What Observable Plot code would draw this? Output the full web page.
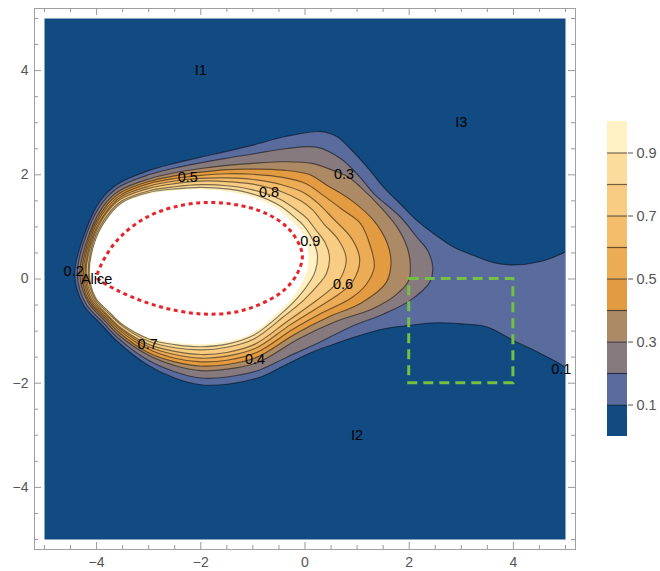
<!DOCTYPE html>
<html><head><meta charset="utf-8">
<script src="https://cdn.jsdelivr.net/npm/d3@7"></script>
<script src="https://cdn.jsdelivr.net/npm/@observablehq/plot@0.6"></script>
<style>
body{margin:0;background:#fff;}
#wrap{position:relative;width:660px;height:571px;font-family:"Liberation Sans",Arial,sans-serif;}
#legend{position:absolute;left:600px;top:110px;}
</style></head><body><div id="wrap"><div id="main"></div><div id="legend"></div></div>
<script>
// plot range and ticks
const plotRangeX = [-5, 5];
const plotRangeY = [-5, 5];
const xMajor = [-4, -2, 0, 2, 4];
const yMajor = [-4, -2, 0, 2, 4];
const xMinor = [-5, -4.5, -3.5, -3, -2.5, -1.5, -1, -0.5, 0.5, 1, 1.5, 2.5, 3, 3.5, 4.5, 5];
const yMinor = [-5, -4.5, -3.5, -3, -2.5, -1.5, -1, -0.5, 0.5, 1, 1.5, 2.5, 3, 3.5, 4.5, 5];

// contour bands (value ranges) and colours
const bandLower = [0, 0.1, 0.2, 0.3, 0.4, 0.5, 0.6, 0.7, 0.8, 0.9];
const bandUpper = [0.1, 0.2, 0.3, 0.4, 0.5, 0.6, 0.7, 0.8, 0.9, 1.0];
const bandColors = ["#114b82", "#5a6b9e", "#867a7f", "#ac8a66", "#e39b42", "#ecab55", "#f3bd6c", "#f8cc82", "#fcdc9a", "#fff1c3"];
const contourLevels = [0.1, 0.2, 0.3, 0.4, 0.5, 0.6, 0.7, 0.8, 0.9];
const legendTicks = [0.1, 0.3, 0.5, 0.7, 0.9];

// contour polygons (level = value on the boundary)
const c01 = [[-4.42,0.10],[-4.20,0.95],[-3.93,1.50],[-3.60,1.82],[-3.00,2.08],[-2.50,2.22],[-2.00,2.34],[-1.50,2.45],[-1.00,2.57],[-0.35,2.74],[0.30,2.83],[0.60,2.74],[0.87,2.50],[1.19,2.15],[1.51,1.76],[1.83,1.44],[2.15,1.12],[2.47,0.87],[2.86,0.61],[3.24,0.45],[3.60,0.32],[4.00,0.27],[4.50,0.33],[5.00,0.52],[5.30,0.70],[5.30,-2.00],[5.00,-1.70],[4.50,-1.42],[4.00,-1.18],[3.50,-0.92],[3.00,-0.86],[2.50,-0.84],[2.00,-0.89],[1.50,-0.96],[1.00,-1.10],[0.50,-1.27],[0.10,-1.42],[-0.40,-1.66],[-0.85,-1.88],[-1.50,-2.02],[-2.00,-2.03],[-2.50,-1.90],[-3.05,-1.63],[-3.60,-1.20],[-3.93,-0.85],[-4.25,-0.50]];
const c02 = [[-4.37,0.10],[-4.17,0.92],[-3.90,1.45],[-3.58,1.76],[-3.00,2.00],[-2.50,2.13],[-2.00,2.23],[-1.50,2.32],[-1.00,2.40],[-0.38,2.50],[0.22,2.53],[0.70,2.30],[1.05,1.96],[1.32,1.64],[1.83,1.19],[2.15,0.80],[2.35,0.55],[2.45,0.25],[2.40,-0.05],[2.02,-0.41],[1.51,-0.67],[0.87,-0.92],[0.23,-1.24],[-0.35,-1.50],[-0.88,-1.75],[-1.50,-1.88],[-2.00,-1.90],[-2.50,-1.78],[-3.04,-1.54],[-3.58,-1.14],[-3.90,-0.81],[-4.21,-0.47]];
const c03 = [[-4.32,0.10],[-4.13,0.89],[-3.87,1.40],[-3.57,1.69],[-3.00,1.92],[-2.50,2.04],[-2.00,2.12],[-1.50,2.18],[-1.00,2.22],[-0.40,2.25],[0.13,2.22],[0.55,2.08],[0.81,1.97],[1.07,1.76],[1.45,1.38],[1.77,0.99],[1.96,0.61],[2.02,0.29],[1.99,-0.03],[1.75,-0.30],[1.30,-0.57],[0.58,-0.82],[-0.11,-1.14],[-0.90,-1.60],[-1.50,-1.73],[-2.00,-1.76],[-2.50,-1.66],[-3.03,-1.45],[-3.57,-1.08],[-3.87,-0.77],[-4.16,-0.45]];
const c04 = [[-4.28,0.10],[-4.11,0.87],[-3.85,1.36],[-3.55,1.65],[-3.00,1.87],[-2.50,1.98],[-2.00,2.05],[-1.50,2.10],[-1.00,2.11],[-0.42,2.09],[0.07,2.01],[0.42,1.80],[0.90,1.50],[1.32,1.12],[1.58,0.68],[1.65,0.29],[1.55,-0.08],[1.08,-0.46],[0.45,-0.73],[-0.18,-1.05],[-0.92,-1.50],[-1.50,-1.64],[-2.00,-1.67],[-2.50,-1.59],[-3.03,-1.40],[-3.55,-1.04],[-3.85,-0.74],[-4.14,-0.43]];
const c05 = [[-4.25,0.10],[-4.09,0.85],[-3.83,1.33],[-3.54,1.61],[-3.00,1.83],[-2.50,1.93],[-2.00,1.99],[-1.50,2.02],[-1.00,2.01],[-0.43,1.95],[0.02,1.83],[0.33,1.62],[0.72,1.33],[1.07,1.06],[1.26,0.61],[1.33,0.23],[1.17,-0.11],[0.88,-0.37],[0.33,-0.65],[-0.24,-0.97],[-0.93,-1.41],[-1.50,-1.56],[-2.00,-1.59],[-2.50,-1.52],[-3.02,-1.34],[-3.54,-1.00],[-3.83,-0.72],[-4.11,-0.42]];
const c06 = [[-4.22,0.10],[-4.07,0.83],[-3.81,1.30],[-3.53,1.58],[-3.00,1.78],[-2.50,1.88],[-2.00,1.93],[-1.50,1.94],[-1.00,1.91],[-0.45,1.81],[-0.03,1.66],[0.23,1.47],[0.52,1.18],[0.90,0.77],[1.05,0.37],[0.92,-0.04],[0.68,-0.27],[0.21,-0.57],[-0.30,-0.89],[-0.95,-1.33],[-1.50,-1.48],[-2.00,-1.52],[-2.50,-1.45],[-3.02,-1.29],[-3.53,-0.97],[-3.81,-0.70],[-4.09,-0.40]];
const c07 = [[-4.20,0.10],[-4.05,0.82],[-3.80,1.28],[-3.53,1.54],[-3.00,1.74],[-2.50,1.83],[-2.00,1.88],[-1.50,1.87],[-1.00,1.82],[-0.46,1.68],[-0.08,1.50],[0.14,1.33],[0.36,1.06],[0.65,0.74],[0.79,0.39],[0.69,0.03],[0.50,-0.19],[0.10,-0.50],[-0.35,-0.82],[-0.96,-1.25],[-1.50,-1.41],[-2.00,-1.45],[-2.50,-1.39],[-3.01,-1.25],[-3.53,-0.94],[-3.80,-0.68],[-4.06,-0.39]];
const c08 = [[-4.16,0.10],[-4.03,0.80],[-3.78,1.24],[-3.51,1.50],[-3.00,1.69],[-2.50,1.77],[-2.00,1.81],[-1.50,1.79],[-1.00,1.71],[-0.48,1.53],[-0.13,1.30],[0.04,1.16],[0.20,0.95],[0.39,0.69],[0.47,0.42],[0.41,0.10],[0.28,-0.08],[-0.03,-0.41],[-0.42,-0.73],[-0.98,-1.15],[-1.50,-1.31],[-2.00,-1.36],[-2.50,-1.32],[-3.01,-1.19],[-3.51,-0.90],[-3.78,-0.65],[-4.04,-0.37]];
const c09 = [[-4.14,0.10],[-4.01,0.78],[-3.76,1.22],[-3.51,1.47],[-3.00,1.66],[-2.50,1.73],[-2.00,1.76],[-1.50,1.73],[-1.00,1.63],[-0.49,1.41],[-0.17,1.16],[-0.04,1.04],[0.09,0.86],[0.19,0.65],[0.24,0.44],[0.20,0.16],[0.12,-0.01],[-0.13,-0.35],[-0.46,-0.67],[-0.99,-1.08],[-1.50,-1.25],[-2.00,-1.30],[-2.50,-1.26],[-3.00,-1.15],[-3.51,-0.87],[-3.76,-0.63],[-4.02,-0.36]];
const aboveOne = [[-4.12,0.10],[-4.00,0.77],[-3.75,1.20],[-3.50,1.45],[-3.00,1.63],[-2.50,1.70],[-2.00,1.72],[-1.50,1.68],[-1.00,1.57],[-0.50,1.33],[-0.20,1.05],[-0.10,0.95],[0.00,0.80],[0.05,0.62],[0.07,0.45],[0.05,0.20],[0.00,0.05],[-0.20,-0.30],[-0.50,-0.62],[-1.00,-1.03],[-1.50,-1.20],[-2.00,-1.25],[-2.50,-1.22],[-3.00,-1.12],[-3.50,-0.85],[-3.75,-0.62],[-4.00,-0.35]];

// red dotted curve
const redCurve = [[-3.99,0.03],[-3.80,0.48],[-3.48,0.87],[-3.03,1.19],[-2.52,1.38],[-1.88,1.47],[-1.24,1.41],[-0.73,1.25],[-0.34,0.99],[-0.12,0.68],[-0.05,0.42],[-0.15,0.10],[-0.41,-0.22],[-0.85,-0.48],[-1.37,-0.64],[-2.00,-0.67],[-2.64,-0.57],[-3.16,-0.41],[-3.60,-0.22],[-3.93,-0.03]];

// green dashed box
const boxX = [2, 4];
const boxY = [-2, 0];

// text labels
const regionText = ["I1", "I2", "I3", "Alice"];
const regionX = [-2, 1, 3, -4];
const regionY = [4, -3, 3, 0];
const contourText = ["0.1", "0.2", "0.3", "0.4", "0.5", "0.6", "0.7", "0.8", "0.9"];
const contourTextX = [4.92, -4.44, 0.75, -0.96, -2.25, 0.73, -3.02, -0.69, 0.1];
const contourTextY = [-1.74, 0.15, 2.0, -1.55, 1.96, -0.11, -1.25, 1.67, 0.73];

const FONT = "'Liberation Sans', Arial, sans-serif";
const W = 521, H = 521, PAD = 10;
const minusFmt = d => d < 0 ? "\u2212" + (-d) : String(d);
const px = d => d[0], py = d => d[1];

const polys = [c01, c02, c03, c04, c05, c06, c07, c08, c09];
const marks = [Plot.frame({fill: bandColors[0], stroke: null})];
polys.forEach((p, i) => {
  marks.push(Plot.line(p, {x: px, y: py, curve: "catmull-rom-closed", fill: bandColors[i + 1],
    stroke: "#000", strokeOpacity: 0.5, strokeWidth: 1.15, clip: true}));
});
marks.push(Plot.line(aboveOne, {x: px, y: py, curve: "catmull-rom-closed", fill: "#ffffff", stroke: "none", clip: true}));
marks.push(Plot.line(redCurve, {x: px, y: py, curve: "catmull-rom-closed", stroke: "#e8242a", strokeWidth: 3,
  strokeDasharray: "4,3.6", strokeLinecap: "butt"}));
marks.push(Plot.rect([{x1: boxX[0], x2: boxX[1], y1: boxY[0], y2: boxY[1]}], {x1: "x1", x2: "x2", y1: "y1", y2: "y2",
  fill: "none", stroke: "#74c043", strokeWidth: 3, strokeDasharray: "10,6"}));
marks.push(Plot.text(regionText.map((t, i) => ({t, x: regionX[i], y: regionY[i]})), {x: "x", y: "y", text: "t", fontSize: 14.5, fill: "#000"}));
marks.push(Plot.text(contourText.map((t, i) => ({t, x: contourTextX[i], y: contourTextY[i]})), {x: "x", y: "y", text: "t", fontSize: 14.5, fill: "#000"}));
// frame and ticks (Mathematica style, inward)
marks.push(Plot.frame({inset: -PAD, stroke: "#a0a0a0", fill: "none"}));
marks.push(Plot.ruleX(xMajor, {insetTop: H + PAD - 7, insetBottom: -PAD, stroke: "#999"}));
marks.push(Plot.ruleX(xMinor, {insetTop: H + PAD - 4, insetBottom: -PAD, stroke: "#999"}));
marks.push(Plot.ruleX(xMajor, {insetTop: -PAD, insetBottom: H + PAD - 7, stroke: "#999"}));
marks.push(Plot.ruleX(xMinor, {insetTop: -PAD, insetBottom: H + PAD - 4, stroke: "#999"}));
marks.push(Plot.ruleY(yMajor, {insetLeft: -PAD, insetRight: W + PAD - 7, stroke: "#999"}));
marks.push(Plot.ruleY(yMinor, {insetLeft: -PAD, insetRight: W + PAD - 4, stroke: "#999"}));
marks.push(Plot.ruleY(yMajor, {insetRight: -PAD, insetLeft: W + PAD - 7, stroke: "#999"}));
marks.push(Plot.ruleY(yMinor, {insetRight: -PAD, insetLeft: W + PAD - 4, stroke: "#999"}));
marks.push(Plot.axisX({ticks: xMajor, anchor: "bottom", tickSize: 0, tickPadding: 18, tickFormat: minusFmt, fontSize: 14, color: "#555", label: null}));
marks.push(Plot.axisY({ticks: yMajor, anchor: "left", tickSize: 0, tickPadding: 16, tickFormat: minusFmt, fontSize: 14, color: "#555", label: null}));

const main = Plot.plot({
  width: 660, height: 571,
  marginLeft: 44, marginRight: 95, marginTop: 18, marginBottom: 32,
  x: {domain: plotRangeX}, y: {domain: plotRangeY},
  style: {fontFamily: FONT, fontSize: "14px", background: "#fff"},
  marks
});
document.getElementById("main").appendChild(main);

const bands = bandLower.map((lo, i) => ({lo, hi: bandUpper[i], c: bandColors[i]}));
const legend = Plot.plot({
  width: 60, height: 340,
  marginLeft: 7, marginRight: 33, marginTop: 11, marginBottom: 14,
  x: {domain: [0, 1], axis: null},
  y: {domain: [0, 1]},
  color: {type: "identity"},
  style: {fontFamily: FONT, fontSize: "14px", background: "transparent"},
  marks: [
    Plot.rect(bands, {x1: 0, x2: 1, y1: "lo", y2: "hi", fill: "c"}),
    Plot.ruleY(contourLevels, {stroke: "#000", strokeOpacity: 0.55, strokeWidth: 1.2}),
    Plot.axisY({ticks: legendTicks, anchor: "right", tickSize: 5, tickPadding: 4, tickFormat: d => d.toFixed(1), fontSize: 14.5, color: "#555", label: null})
  ]
});
document.getElementById("legend").appendChild(legend);
</script></body></html>
